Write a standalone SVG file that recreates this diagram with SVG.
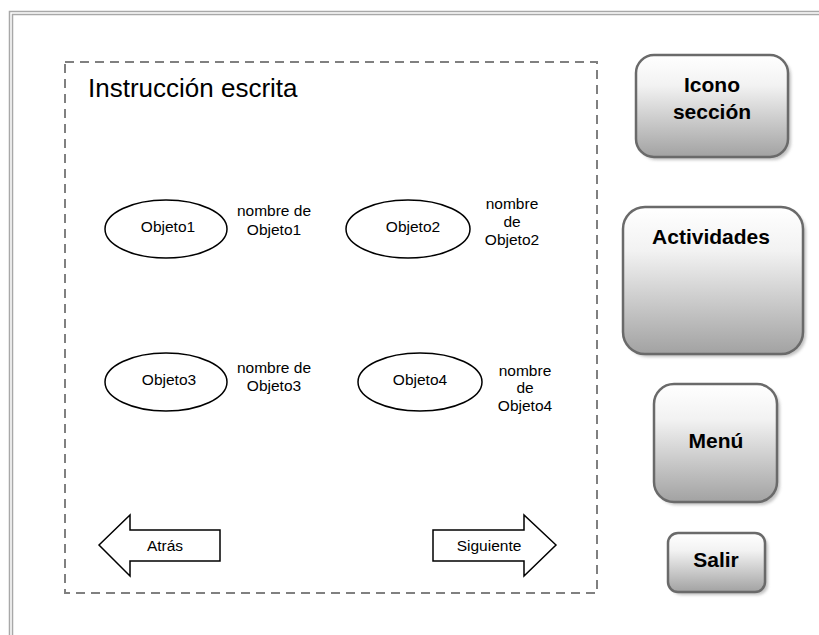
<svg xmlns="http://www.w3.org/2000/svg" width="819" height="635" viewBox="0 0 819 635">
<defs>
<linearGradient id="btn" x1="0" y1="0" x2="0" y2="1">
<stop offset="0" stop-color="#ffffff"/>
<stop offset="0.3" stop-color="#f2f2f2"/>
<stop offset="1" stop-color="#a2a2a2"/>
</linearGradient>
<filter id="sh" x="-10%" y="-10%" width="130%" height="130%">
<feGaussianBlur stdDeviation="1.5"/>
</filter>
</defs>
<style>
.frame{fill:none;stroke:#a8a8a8;stroke-width:1.5}
.dash{fill:none;stroke:#808080;stroke-width:2;stroke-dasharray:9 6}
.btn{fill:url(#btn);stroke:#6a6a6a;stroke-width:2.5}
.shadow{fill:#9a9a9a;opacity:0.6;filter:url(#sh)}
.bt{font-family:"Liberation Sans",Arial,sans-serif;font-weight:bold;font-size:21px;fill:#000;text-anchor:middle}
.t{font-family:"Liberation Sans",Arial,sans-serif;font-size:15.5px;fill:#000;text-anchor:middle}
.shape{fill:#fff;stroke:#000;stroke-width:1.5}
</style>
<rect width="819" height="635" fill="#fff"/>
<g id="frame">
<path class="frame" d="M819,11.5 H9.5 V635"/>
<path class="frame" d="M819,14.5 H12.5 V635" stroke-width="1"/>
</g>
<g id="content-area">
<rect class="dash" x="65" y="62" width="532" height="531"/>
<text x="88" y="97" font-family="Liberation Sans,Arial,sans-serif" font-size="26" fill="#000">Instrucción escrita</text>
</g>
<g id="connectors"/>
<g id="objeto1">
<ellipse class="shape" cx="166" cy="229" rx="61" ry="29"/>
<text class="t" x="168" y="232">Objeto1</text>
<text class="t" x="274" y="216">nombre de</text>
<text class="t" x="274" y="235">Objeto1</text>
</g>
<g id="objeto2">
<ellipse class="shape" cx="408" cy="229" rx="62" ry="29"/>
<text class="t" x="413" y="232">Objeto2</text>
<text class="t" x="512" y="209">nombre</text>
<text class="t" x="512" y="227">de</text>
<text class="t" x="512" y="245">Objeto2</text>
</g>
<g id="objeto3">
<ellipse class="shape" cx="166" cy="382" rx="61" ry="29"/>
<text class="t" x="169" y="385">Objeto3</text>
<text class="t" x="274" y="373">nombre de</text>
<text class="t" x="274" y="391">Objeto3</text>
</g>
<g id="objeto4">
<ellipse class="shape" cx="420" cy="382" rx="62" ry="29"/>
<text class="t" x="420" y="385">Objeto4</text>
<text class="t" x="525" y="376">nombre</text>
<text class="t" x="525" y="393">de</text>
<text class="t" x="525" y="411">Objeto4</text>
</g>
<g id="atras">
<polygon class="shape" points="99,545 130,515 130,530 220,530 220,561 130,561 130,576"/>
<text class="t" x="165" y="551">Atrás</text>
</g>
<g id="siguiente">
<polygon class="shape" points="556,545 524,515 524,530 433,530 433,561 524,561 524,576"/>
<text class="t" x="489" y="551">Siguiente</text>
</g>
<g id="icono-seccion">
<rect class="shadow" x="639" y="58" width="152" height="102" rx="18"/>
<rect class="btn" x="636" y="55" width="152" height="102" rx="18"/>
<text class="bt" x="712" y="92">Icono</text>
<text class="bt" x="712" y="119">sección</text>
</g>
<g id="actividades">
<rect class="shadow" x="626" y="210" width="180" height="147" rx="22"/>
<rect class="btn" x="623" y="207" width="180" height="147" rx="22"/>
<text class="bt" x="711" y="244">Actividades</text>
</g>
<g id="menu">
<rect class="shadow" x="657" y="387" width="123" height="118" rx="20"/>
<rect class="btn" x="654" y="384" width="123" height="118" rx="20"/>
<text class="bt" x="716" y="448">Menú</text>
</g>
<g id="salir">
<rect class="shadow" x="671" y="536" width="97" height="59" rx="10"/>
<rect class="btn" x="668" y="533" width="97" height="59" rx="10"/>
<text class="bt" x="716" y="567">Salir</text>
</g>
</svg>
